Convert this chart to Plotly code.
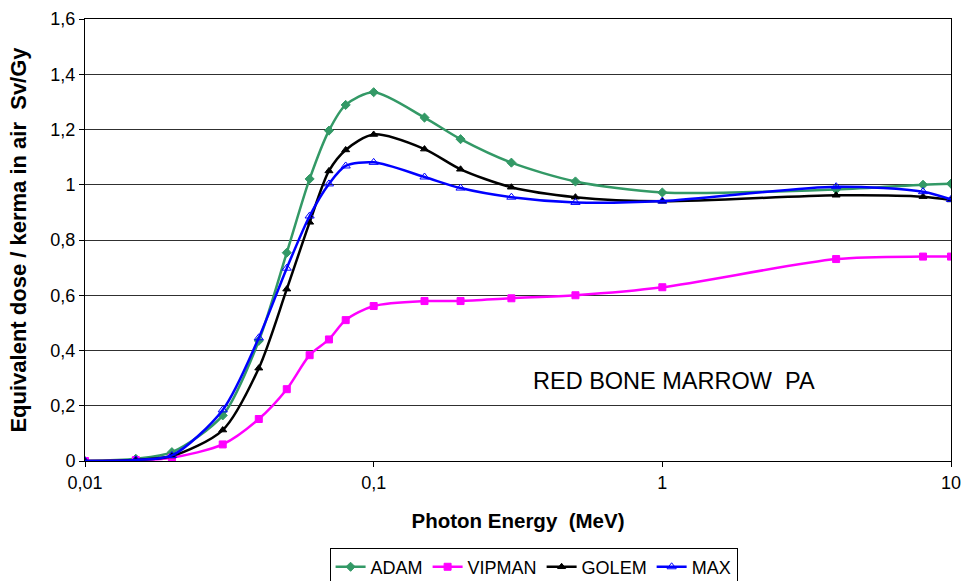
import plotly.graph_objects as go

energy = [0.01, 0.015, 0.02, 0.03, 0.04, 0.05, 0.06, 0.07, 0.08, 0.1, 0.15, 0.2, 0.3, 0.5, 1, 4, 8, 10]
adam =   [0.0, 0.008, 0.032, 0.165, 0.435, 0.754, 1.021, 1.196, 1.289, 1.335, 1.243, 1.165, 1.080, 1.012, 0.972, 0.983, 1.000, 1.004]
vipman = [0.0, 0.003, 0.012, 0.060, 0.152, 0.260, 0.383, 0.440, 0.510, 0.561, 0.579, 0.579, 0.589, 0.600, 0.629, 0.731, 0.740, 0.740]
golem =  [0.0, 0.004, 0.018, 0.112, 0.336, 0.622, 0.864, 1.050, 1.126, 1.182, 1.129, 1.056, 0.991, 0.955, 0.940, 0.962, 0.957, 0.945]
maxp =   [0.0, 0.004, 0.020, 0.185, 0.446, 0.698, 0.887, 1.003, 1.068, 1.081, 1.028, 0.988, 0.955, 0.936, 0.941, 0.993, 0.975, 0.947]

y_ticks = [0, 0.2, 0.4, 0.6, 0.8, 1.0, 1.2, 1.4, 1.6]
y_tick_labels = ["0", "0,2", "0,4", "0,6", "0,8", "1", "1,2", "1,4", "1,6"]
x_ticks = [0.01, 0.1, 1, 10]
x_tick_labels = ["0,01", "0,1", "1", "10"]

series = [
    ("ADAM", adam, "#339966", dict(symbol="diamond", size=7)),
    ("VIPMAN", vipman, "#FF00FF", dict(symbol="square", size=7)),
    ("GOLEM", golem, "#000000", dict(symbol="triangle-up", size=7)),
    ("MAX", maxp, "#0000FF", dict(symbol="triangle-up-open", size=8)),
]

fig = go.Figure()
for name, vals, col, mk in series:
    fig.add_trace(go.Scatter(
        x=energy, y=vals, name=name, mode="lines+markers",
        line=dict(color=col, width=2.5, shape="spline", smoothing=0.8),
        marker=dict(color=col, line=dict(color=col, width=1), **mk),
    ))

font = "Liberation Sans, Arial, sans-serif"
fig.update_layout(
    width=964, height=581,
    margin=dict(l=85, r=13, t=19, b=120, autoexpand=False),
    paper_bgcolor="white", plot_bgcolor="white",
    font=dict(family=font, size=18, color="black"),
    showlegend=True,
    legend=dict(orientation="h", x=0.518, y=-0.24, xanchor="center", yanchor="middle",
                bordercolor="black", borderwidth=1, font=dict(size=18),
                itemwidth=30, tracegroupgap=0),
    xaxis=dict(type="log", range=[-2, 1], tickvals=x_ticks, ticktext=x_tick_labels,
               showgrid=False, showline=True, linecolor="black", linewidth=1, mirror=True,
               ticks="outside", ticklen=5, tickcolor="black", zeroline=False, automargin=False,
               title=dict(text="<b>Photon Energy  (MeV)</b>", font=dict(size=20.5), standoff=22)),
    yaxis=dict(range=[0, 1.6], tickvals=y_ticks, ticktext=y_tick_labels,
               showgrid=True, gridcolor="#303030", gridwidth=1,
               showline=True, linecolor="black", linewidth=1, mirror=True,
               ticks="outside", ticklen=5, tickcolor="black", zeroline=False, automargin=False,
               title=dict(text="<b>Equivalent dose / kerma in air  Sv/Gy</b>", font=dict(size=22), standoff=17)),
    annotations=[dict(text="RED BONE MARROW  PA", x=0.680, y=0.181, xref="paper", yref="paper",
                      showarrow=False, font=dict(size=23.5), xanchor="center", yanchor="middle")],
)

fig.write_html("out.html")
